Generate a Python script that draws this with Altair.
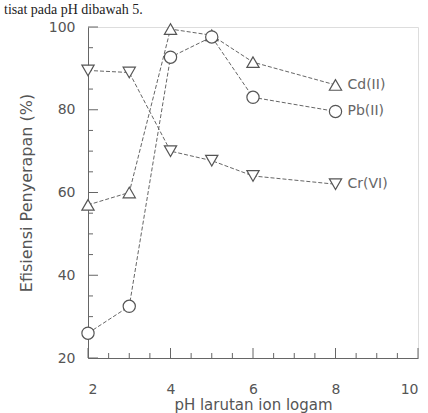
import altair as alt
import pandas as pd

ph = [2, 3, 4, 5, 6, 8]
cd = [57, 60, 99.5, 98, 91.5, 86]
pb = [26, 32.5, 92.7, 97.6, 83, 79.6]
cr = [89.5, 89, 70, 67.7, 64, 62]
series = ["Cd(II)", "Pb(II)", "Cr(VI)"]
shapes = ["triangle-up", "circle", "triangle-down"]
x_major = [2, 4, 6, 8, 10]
x_minor = [2.5, 3, 3.5, 4.5, 5, 5.5, 6.5, 7, 7.5, 8.5, 9, 9.5]
y_major = [20, 40, 60, 80, 100]
y_minor = [25, 30, 35, 45, 50, 55, 65, 70, 75, 85, 90, 95]

rows = []
for name, vals in zip(series, [cd, pb, cr]):
    for x, v in zip(ph, vals):
        rows.append({"pH": x, "E": v, "s": name})
df = pd.DataFrame(rows)
lab = pd.DataFrame({"pH": [8, 8, 8], "E": [cd[-1], pb[-1], cr[-1]], "s": series})

W, H = 330, 331
col = "#666666"
xs = alt.Scale(domain=[2, 10], nice=False)
ys = alt.Scale(domain=[20, 100], nice=False)
shape_scale = alt.Scale(domain=series, range=shapes)

base = alt.Chart(df)
lines = base.mark_line(color=col, strokeWidth=1, strokeDash=[4, 2]).encode(
    x=alt.X("pH:Q", scale=xs, axis=alt.Axis(values=x_major, title="pH larutan ion logam", ticks=False,
                                             labelFontSize=14, titleFontSize=15, labelPadding=24,
                                             titlePadding=1, labelColor="#555", titleColor="#555",
                                             titleFontWeight="normal", domainColor=col, grid=False,
                                             labelFont="DejaVu Sans", titleFont="DejaVu Sans")),
    y=alt.Y("E:Q", scale=ys, axis=alt.Axis(values=y_major, title="Efisiensi Penyerapan (%)", ticks=False,
                                            labelFontSize=14, titleFontSize=16, labelPadding=13,
                                            titlePadding=14, labelColor="#555", titleColor="#555",
                                            titleFontWeight="normal", domainColor=col, grid=False,
                                            labelFont="DejaVu Sans", titleFont="DejaVu Sans")),
    detail="s:N",
)
pts = base.mark_point(size=150, filled=True, fill="white", stroke="#555", strokeWidth=1.2, opacity=1).encode(
    x=alt.X("pH:Q", scale=xs), y=alt.Y("E:Q", scale=ys),
    shape=alt.Shape("s:N", scale=shape_scale, legend=None),
)
labtext = alt.Chart(lab).mark_text(align="left", dx=12, fontSize=14, color="#666", font="DejaVu Sans").encode(
    x=alt.X("pH:Q", scale=xs), y=alt.Y("E:Q", scale=ys), text="s:N"
)

xmaj = alt.Chart(pd.DataFrame({"v": x_major})).mark_rule(color=col).encode(
    x=alt.X("v:Q", scale=xs), y=alt.value(H), y2=alt.value(H - 10))
xmin = alt.Chart(pd.DataFrame({"v": x_minor})).mark_rule(color=col).encode(
    x=alt.X("v:Q", scale=xs), y=alt.value(H), y2=alt.value(H - 5))
ymaj = alt.Chart(pd.DataFrame({"v": y_major})).mark_rule(color=col).encode(
    y=alt.Y("v:Q", scale=ys), x=alt.value(0), x2=alt.value(10))
ymin = alt.Chart(pd.DataFrame({"v": y_minor})).mark_rule(color=col).encode(
    y=alt.Y("v:Q", scale=ys), x=alt.value(0), x2=alt.value(5))

top = alt.Chart(pd.DataFrame({"t": ["tisat pada pH dibawah 5."]})).mark_text(
    align="left", baseline="alphabetic", fontSize=14, font="Liberation Serif", color="#222"
).encode(x=alt.value(-84), y=alt.value(-13), text="t:N")

chart = alt.layer(xmin, xmaj, ymin, ymaj, lines, pts, labtext, top).properties(
    width=W, height=H,
    autosize=alt.AutoSizeParams(type="none"),
    padding={"left": 88, "top": 27, "right": 10, "bottom": 55},
).configure_view(stroke=col, strokeWidth=1).configure(background="white")

chart.save("out.html", embed_options={"renderer": "svg", "actions": False})
